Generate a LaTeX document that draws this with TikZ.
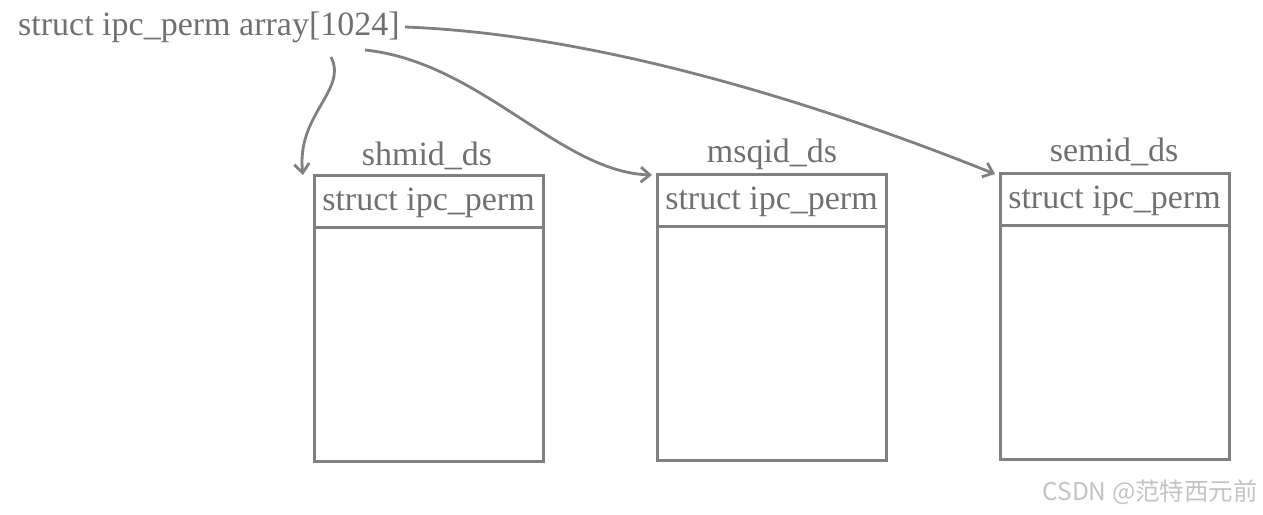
\documentclass[tikz,border=0pt]{standalone}
\usepackage{fontspec}
\setmainfont{Liberation Serif}
\newfontfamily\cjk{Noto Sans CJK SC}
\usetikzlibrary{arrows.meta}
\definecolor{ln}{RGB}{128,128,128}
\definecolor{tx}{RGB}{112,112,112}
\definecolor{wm}{RGB}{195,195,195}
\begin{document}
\begin{tikzpicture}[x=1pt,y=1pt,
  lbl/.style={text=tx,font=\fontsize{34}{34}\selectfont,inner sep=0pt},
  boxstyle/.style={draw=ln,line width=3pt},
  conn/.style={draw=ln,line width=2.8pt,-{Straight Barb[length=9pt,width=15pt,line width=2.8pt]}}]
\useasboundingbox (0,0) rectangle (1263,-514);
% title text
\node[lbl,anchor=west] (arr) at (18,-27) {struct ipc\_perm array[1024]};
% boxes
\draw[boxstyle] (314,-175) rectangle (543,-461);
\draw[boxstyle] (314,-227) -- (543,-227);
\draw[boxstyle] (657,-174) rectangle (886,-460);
\draw[boxstyle] (657,-226) -- (886,-226);
\draw[boxstyle] (1000,-173) rectangle (1229,-459);
\draw[boxstyle] (1000,-225) -- (1229,-225);
\coordinate (b1) at (303,-175);
\coordinate (b2) at (652,-175);
\coordinate (b3) at (995,-174);
% labels
\node[lbl] (t1) at (427,-156) {shmid\_ds};
\node[lbl] (t2) at (772,-154) {msqid\_ds};
\node[lbl] (t3) at (1114,-152) {semid\_ds};
\node[lbl] (h1) at (428.5,-203) {struct ipc\_perm};
\node[lbl] (h2) at (771.5,-202) {struct ipc\_perm};
\node[lbl] (h3) at (1114.5,-201) {struct ipc\_perm};
% connectors
\coordinate (s1) at (331,-57);
\coordinate (s2) at (365,-50);
\coordinate (s3) at (405,-27);
\draw[conn] (s1) .. controls (348,-90) and (296,-115) .. (b1);
\draw[conn] (s2) .. controls (480,-62) and (560,-172) .. (b2);
\draw[conn] (s3) .. controls (620,-35) and (860,-120) .. (b3);
% watermark
\node[text=wm,font=\cjk\fontsize{24.5}{24.5}\selectfont,anchor=east,inner sep=0pt] (wmk) at (1258,-492) {CSDN @范特西元前};
\end{tikzpicture}
\end{document}
